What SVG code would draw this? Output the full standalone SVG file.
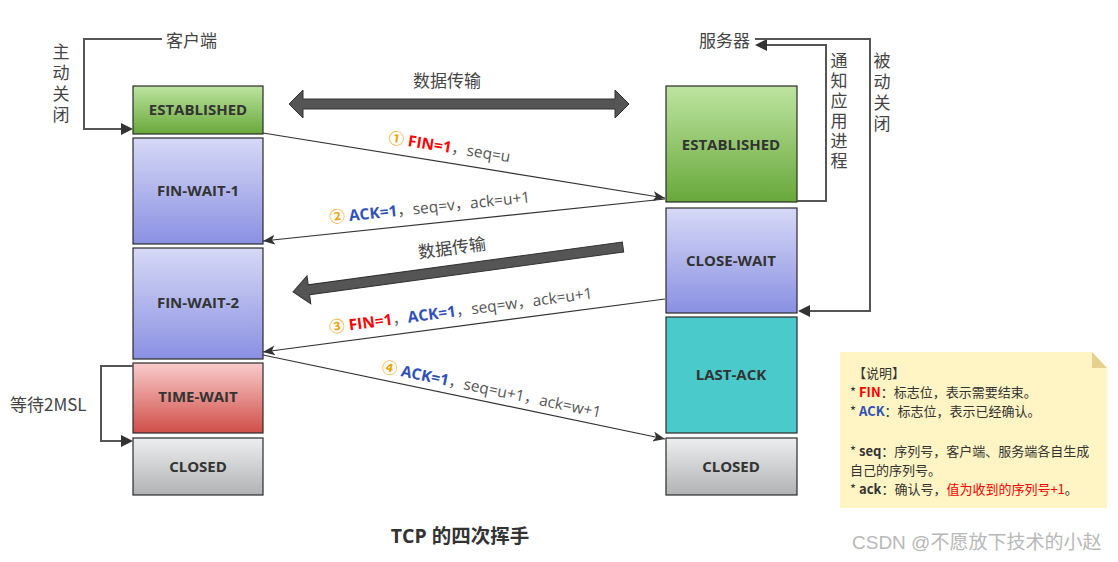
<svg xmlns="http://www.w3.org/2000/svg" width="1118" height="562" viewBox="0 0 1118 562">
<defs>
<linearGradient id="gGreen" x1="0" y1="0" x2="0" y2="1"><stop offset="0" stop-color="#bde4a0"/><stop offset="1" stop-color="#68a83a"/></linearGradient>
<linearGradient id="gBlue" x1="0" y1="0" x2="0" y2="1"><stop offset="0" stop-color="#d6d9f6"/><stop offset="1" stop-color="#8a90e2"/></linearGradient>
<linearGradient id="gRed" x1="0" y1="0" x2="0" y2="1"><stop offset="0" stop-color="#f9cccc"/><stop offset="1" stop-color="#d04e48"/></linearGradient>
<linearGradient id="gGray" x1="0" y1="0" x2="0" y2="1"><stop offset="0" stop-color="#eceeef"/><stop offset="1" stop-color="#b0b2b3"/></linearGradient>
<marker id="arrBig" viewBox="0 0 12 10" refX="12" refY="5" markerWidth="12" markerHeight="10" markerUnits="userSpaceOnUse" orient="auto"><path d="M0,0 L12,5 L0,10 L3,5 Z" fill="#333"/></marker>
</defs>
<style>
.box{stroke:#2b2b2b;stroke-width:1.2}
.bl{font-family:"Open Sans","Noto Sans",sans-serif;font-weight:bold;font-size:15px;fill:#333;text-anchor:middle}
.lbl{font-family:"Noto Sans CJK SC",sans-serif;font-size:17px;fill:#444}
.vert{font-family:"Noto Sans CJK SC",sans-serif;font-size:17px;fill:#444;writing-mode:vertical-rl}
.msg{font-family:"Open Sans","Noto Sans CJK SC",sans-serif;font-size:15.5px;fill:#555}
.num{fill:#f0a30a;font-weight:bold}
.fin{fill:#ff0000;font-weight:bold}
.ack{fill:#3050b8;font-weight:bold}
.line{stroke:#333;stroke-width:1.2;fill:none}
.loop{stroke:#555;stroke-width:2;fill:none}
.note{font-family:"Noto Sans CJK SC",sans-serif;font-size:13px;fill:#333}
.thick{fill:#555555;stroke:#333;stroke-width:1}
</style>
<rect width="1118" height="562" fill="#ffffff"/>

<g id="client-established"><rect class="box" x="133" y="86" width="130" height="48" fill="url(#gGreen)"/><text class="bl" x="198" y="115">ESTABLISHED</text></g>
<g id="fin-wait-1"><rect class="box" x="133" y="138" width="130" height="106" fill="url(#gBlue)"/><text class="bl" x="198" y="196">FIN-WAIT-1</text></g>
<g id="fin-wait-2"><rect class="box" x="133" y="248" width="130" height="111" fill="url(#gBlue)"/><text class="bl" x="198" y="308">FIN-WAIT-2</text></g>
<g id="time-wait"><rect class="box" x="133" y="363" width="130" height="70" fill="url(#gRed)"/><text class="bl" x="198" y="402">TIME-WAIT</text></g>
<g id="client-closed"><rect class="box" x="133" y="438" width="130" height="57" fill="url(#gGray)"/><text class="bl" x="198" y="472">CLOSED</text></g>

<g id="server-established"><rect class="box" x="666" y="86" width="131" height="116" fill="url(#gGreen)"/><text class="bl" x="731" y="150">ESTABLISHED</text></g>
<g id="close-wait"><rect class="box" x="666" y="208" width="131" height="105" fill="url(#gBlue)"/><text class="bl" x="731" y="266">CLOSE-WAIT</text></g>
<g id="last-ack"><rect class="box" x="666" y="317" width="131" height="116" fill="#4acaca"/><text class="bl" x="731" y="380">LAST-ACK</text></g>
<g id="server-closed"><rect class="box" x="666" y="438" width="131" height="57" fill="url(#gGray)"/><text class="bl" x="731" y="472">CLOSED</text></g>

<g id="client-label"><text class="lbl" x="166" y="47">客户端</text></g>
<g id="server-label"><text class="lbl" x="699" y="47">服务器</text></g>

<g id="connectors">
<polyline class="loop" points="162,39 84,39 84,129 121,129"/>
<path d="M121,123 L133,129 L121,135 Z" fill="#333"/>
<polyline class="loop" points="797,201 826,201 826,45 767,45"/>
<path d="M767,39 L755,45 L767,51 Z" fill="#333"/>
<polyline class="loop" points="755,39 870,39 870,311 810,311"/>
<path d="M810,305 L798,311 L810,317 Z" fill="#333"/>
<polyline class="loop" points="133,366 101,366 101,441 121,441"/>
<path d="M121,435 L133,441 L121,447 Z" fill="#333"/>

<line class="line" x1="263" y1="133" x2="665" y2="198" marker-end="url(#arrBig)"/>
<line class="line" x1="665" y1="199" x2="263" y2="241" marker-end="url(#arrBig)"/>
<line class="line" x1="665" y1="299" x2="263" y2="352" marker-end="url(#arrBig)"/>
<line class="line" x1="263" y1="355" x2="665" y2="439" marker-end="url(#arrBig)"/>

<polygon class="thick" points="289,104 303,90 303,99 615,99 615,90 629,104 615,118 615,109 303,109 303,118"/>
<polygon class="thick" transform="translate(623,247) rotate(172.24)" points="0,-5 317,-5 317,-14 333,0 317,14 317,5 0,5"/>
</g>

<g id="labels">
<text class="vert" x="61" y="43" letter-spacing="4">主动关闭</text>
<text class="vert" x="839" y="52" letter-spacing="3">通知应用进程</text>
<text class="vert" x="882" y="52" letter-spacing="4">被动关闭</text>

<text class="lbl" x="10" y="411">等待2MSL</text>

<text class="lbl" x="447" y="87" text-anchor="middle">数据传输</text>
<text class="lbl" x="452" y="254" text-anchor="middle" transform="rotate(-7.76 452 248)">数据传输</text>

<text class="msg" x="388" y="143" transform="rotate(9.05 388 143)"><tspan class="num">①</tspan> <tspan class="fin">FIN=1</tspan>，seq=u</text>
<text class="msg" x="330" y="223" transform="rotate(-5.9 330 223)"><tspan class="num">②</tspan> <tspan class="ack">ACK=1</tspan>，seq=v，ack=u+1</text>
<text class="msg" x="330" y="333" transform="rotate(-7.5 330 333)"><tspan class="num">③</tspan> <tspan class="fin">FIN=1</tspan>，<tspan class="ack">ACK=1</tspan>，seq=w，ack=u+1</text>
<text class="msg" x="381" y="372" transform="rotate(11.8 381 372)"><tspan class="num">④</tspan> <tspan class="ack">ACK=1</tspan>，seq=u+1，ack=w+1</text>
</g>

<g id="note">
<path d="M840,352 L1092,352 L1107,368 L1107,508 L840,508 Z" fill="#fff4c3"/>
<path d="M1092,352 L1107,368 L1092,368 Z" fill="#e6d08e"/>
<text class="note" x="853" y="378">【说明】</text>
<text class="note" x="850" y="397">* <tspan fill="#ff0000" font-weight="bold">FIN</tspan>：标志位，表示需要结束。</text>
<text class="note" x="850" y="416">* <tspan fill="#3050b8" font-weight="bold">ACK</tspan>：标志位，表示已经确认。</text>
<text class="note" x="850" y="456">* <tspan font-weight="bold">seq</tspan>：序列号，客户端、服务端各自生成</text>
<text class="note" x="850" y="475">自己的序列号。</text>
<text class="note" x="850" y="494">* <tspan font-weight="bold">ack</tspan>：确认号，<tspan fill="#ff0000">值为收到的序列号+1</tspan>。</text>
</g>

<g id="title"><text x="460" y="543" text-anchor="middle" font-family="'Open Sans','Noto Sans CJK SC',sans-serif" font-weight="bold" font-size="19.5" fill="#333">TCP 的四次挥手</text></g>
<g id="watermark"><text x="852" y="549" font-family="'Liberation Sans','Noto Sans CJK SC',sans-serif" font-size="19" fill="#b8b8b8">CSDN @不愿放下技术的小赵</text></g>
</svg>
